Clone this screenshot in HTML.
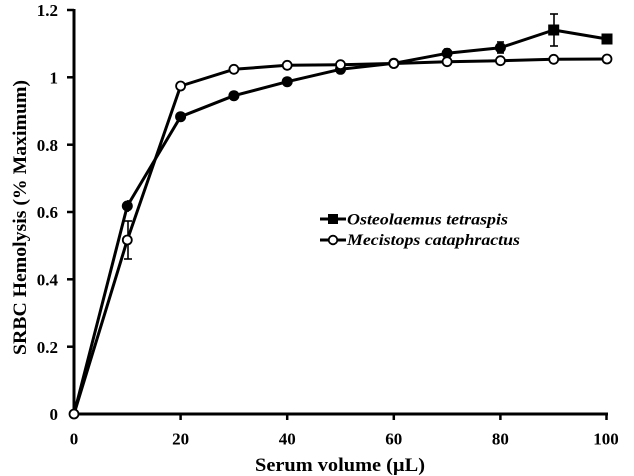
<!DOCTYPE html>
<html><head><meta charset="utf-8"><style>
html,body{margin:0;padding:0;background:#fff;}
svg{display:block;}
text{font-family:"Liberation Serif",serif;font-weight:bold;fill:#000;}
</style></head><body>
<svg width="634" height="476" viewBox="0 0 634 476" xmlns="http://www.w3.org/2000/svg">
<!-- axes -->
<line x1="74" y1="9" x2="74" y2="415.5" stroke="#000" stroke-width="3"/>
<line x1="72.5" y1="414" x2="608" y2="414" stroke="#000" stroke-width="3"/>
<!-- y ticks -->
<g stroke="#000" stroke-width="2.5">
<line x1="67" y1="10" x2="74" y2="10"/>
<line x1="67" y1="77.3" x2="74" y2="77.3"/>
<line x1="67" y1="144.7" x2="74" y2="144.7"/>
<line x1="67" y1="212" x2="74" y2="212"/>
<line x1="67" y1="279.3" x2="74" y2="279.3"/>
<line x1="67" y1="346.7" x2="74" y2="346.7"/>
<!-- x ticks -->
<line x1="180.6" y1="414" x2="180.6" y2="420"/>
<line x1="287.2" y1="414" x2="287.2" y2="420"/>
<line x1="393.8" y1="414" x2="393.8" y2="420"/>
<line x1="500.4" y1="414" x2="500.4" y2="420"/>
<line x1="606.5" y1="414" x2="606.5" y2="420"/>
</g>
<!-- y labels -->
<g font-size="17" text-anchor="end">
<text x="58" y="16">1.2</text>
<text x="58" y="83.5">1</text>
<text x="58" y="151">0.8</text>
<text x="58" y="218">0.6</text>
<text x="58" y="285.5">0.4</text>
<text x="58" y="353">0.2</text>
<text x="58" y="420">0</text>
</g>
<!-- x labels -->
<g font-size="17" text-anchor="middle">
<text x="74" y="444.5">0</text>
<text x="180.6" y="444.5">20</text>
<text x="287.2" y="444.5">40</text>
<text x="393.8" y="444.5">60</text>
<text x="500.4" y="444.5">80</text>
<text x="606" y="444.5">100</text>
</g>
<!-- axis titles -->
<text x="255" y="471" font-size="19" textLength="170" lengthAdjust="spacingAndGlyphs">Serum volume (µL)</text>
<text transform="translate(26,355) rotate(-90)" x="0" y="0" font-size="19" textLength="275" lengthAdjust="spacingAndGlyphs">SRBC Hemolysis (% Maximum)</text>

<!-- error bars -->
<g stroke="#000" stroke-width="1.6">
<line x1="554" y1="14" x2="554" y2="46"/><line x1="550" y1="14" x2="558" y2="14"/><line x1="550" y1="46" x2="558" y2="46"/>
<line x1="128" y1="221" x2="128" y2="259"/><line x1="124" y1="259" x2="132" y2="259"/><line x1="124" y1="221" x2="132" y2="221"/>
<line x1="500.4" y1="42" x2="500.4" y2="53"/><line x1="497" y1="42" x2="504" y2="42"/><line x1="497" y1="53" x2="504" y2="53"/>
<line x1="447" y1="49" x2="447" y2="58"/><line x1="444" y1="49" x2="450" y2="49"/><line x1="444" y1="58" x2="450" y2="58"/>
<line x1="128" y1="200" x2="128" y2="212"/>
</g>

<!-- Mecistops (open) line -->
<polyline fill="none" stroke="#000" stroke-width="3" stroke-linejoin="round" points="74,414 127.3,240 180.6,86 233.9,69.3 287.2,65.3 340.5,64.7 393.8,63.5 447.1,61.7 500.4,60.7 553.7,59.3 607,59"/>
<!-- Osteolaemus (filled) line -->
<polyline fill="none" stroke="#000" stroke-width="3" stroke-linejoin="round" points="74,414 127.3,206 180.6,116.7 233.9,95.7 287.2,81.7 340.5,69.3 393.8,63.3 447.1,53.3 500.4,47.7 553.7,30 607,39"/>

<!-- filled markers -->
<g fill="#000">
<circle cx="127.3" cy="206" r="5.5"/>
<circle cx="180.6" cy="116.7" r="5.5"/>
<circle cx="233.9" cy="95.7" r="5.5"/>
<circle cx="287.2" cy="81.7" r="5.5"/>
<circle cx="340.5" cy="69.3" r="5.5"/>
<circle cx="393.8" cy="63.3" r="5.5"/>
<circle cx="447.1" cy="53.3" r="5.5"/>
<circle cx="500.4" cy="47.7" r="5.5"/>
<rect x="548.2" y="24.5" width="11" height="11"/>
<rect x="601.5" y="33.5" width="11" height="11"/>
</g>
<!-- open markers -->
<g fill="#fff" stroke="#000" stroke-width="1.8">
<circle cx="74" cy="414" r="4.5"/>
<circle cx="127.3" cy="240" r="4.5"/>
<circle cx="180.6" cy="86" r="4.5"/>
<circle cx="233.9" cy="69.3" r="4.5"/>
<circle cx="287.2" cy="65.3" r="4.5"/>
<circle cx="340.5" cy="64.7" r="4.5"/>
<circle cx="393.8" cy="63.5" r="4.5"/>
<circle cx="447.1" cy="61.7" r="4.5"/>
<circle cx="500.4" cy="60.7" r="4.5"/>
<circle cx="553.7" cy="59.3" r="4.5"/>
<circle cx="607" cy="59" r="4.5"/>
</g>

<!-- legend -->
<line x1="320" y1="219" x2="346" y2="219" stroke="#000" stroke-width="3"/>
<rect x="328" y="214" width="10" height="10" fill="#000"/>
<line x1="320" y1="240" x2="346" y2="240" stroke="#000" stroke-width="3"/>
<circle cx="333" cy="240" r="4.3" fill="#fff" stroke="#000" stroke-width="1.8"/>
<text x="347" y="224.5" font-size="16" font-style="italic" textLength="161" lengthAdjust="spacingAndGlyphs">Osteolaemus tetraspis</text>
<text x="347" y="245" font-size="16" font-style="italic" textLength="173" lengthAdjust="spacingAndGlyphs">Mecistops cataphractus</text>
</svg>
</body></html>
